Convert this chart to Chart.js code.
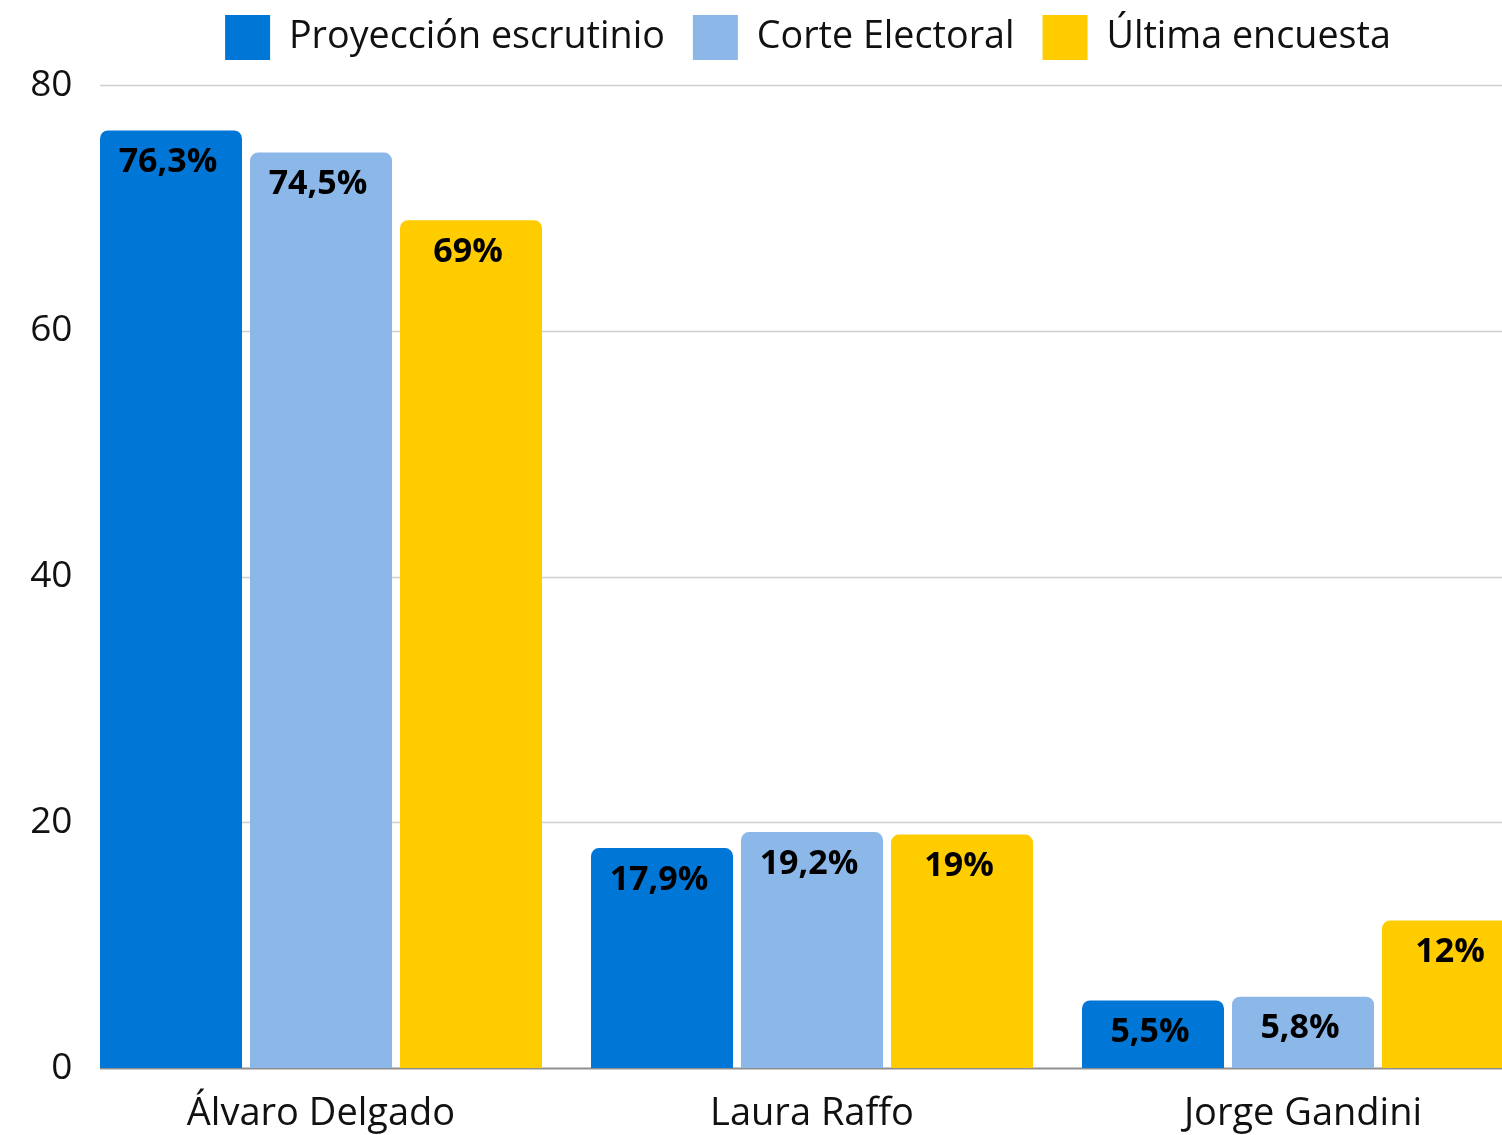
<!DOCTYPE html>
<html>
<head>
<meta charset="utf-8">
<script src="https://cdn.jsdelivr.net/npm/chart.js@4.4.1/dist/chart.umd.min.js"></script>
<style>
  html, body { margin: 0; padding: 0; background: #fff; overflow: hidden; }
  #wrap { position: relative; width: 1616px; height: 1135px; }
</style>
</head>
<body>
<div id="wrap"><canvas id="votes"></canvas></div>
<script>
const candidates = ["Álvaro Delgado", "Laura Raffo", "Jorge Gandini"];
const proyeccion = [76.3, 17.9, 5.5];
const corte = [74.5, 19.2, 5.8];
const encuesta = [69, 19, 12];
const yTicks = [0, 20, 40, 60, 80];

Chart.defaults.font.family = "'Open Sans', 'Noto Sans', sans-serif";
Chart.defaults.color = "#111";

const fmt = (v) => String(v).replace(".", ",") + "%";

// horizontal grid lines, starting at the first bar's left edge
const gridFromBars = {
  id: "gridFromBars",
  beforeDatasetsDraw(chart) {
    const { ctx, chartArea, scales } = chart;
    const first = chart.getDatasetMeta(0).data[0];
    const x0 = first.x - first.width / 2;
    ctx.save();
    yTicks.forEach((t) => {
      const y = Math.round(scales.y.getPixelForValue(t)) + 0.5;
      ctx.beginPath();
      ctx.strokeStyle = t === 0 ? "#8f8f8f" : "#cfcfcf";
      ctx.lineWidth = t === 0 ? 2 : 1.5;
      ctx.moveTo(x0, y);
      ctx.lineTo(chartArea.right, y);
      ctx.stroke();
    });
    ctx.restore();
  },
};

const valueLabels = {
  id: "valueLabels",
  afterDatasetsDraw(chart) {
    const { ctx } = chart;
    ctx.save();
    ctx.font = "bold 34px 'Open Sans', 'Noto Sans', sans-serif";
    ctx.fillStyle = "#000";
    ctx.textAlign = "center";
    ctx.textBaseline = "middle";
    chart.data.datasets.forEach((ds, i) => {
      chart.getDatasetMeta(i).data.forEach((bar, j) => {
        ctx.fillText(fmt(ds.data[j]), bar.x - 3, bar.y + 32);
      });
    });
    ctx.restore();
  },
};

new Chart(document.getElementById("votes"), {
  type: "bar",
  data: {
    labels: candidates,
    datasets: [
      {
        label: "Proyección escrutinio",
        data: proyeccion,
        backgroundColor: "rgb(0,118,214)",
        borderRadius: 8,
      },
      {
        label: "Corte Electoral",
        data: corte,
        backgroundColor: "rgb(139,184,232)",
        borderRadius: 8,
      },
      {
        label: "Última encuesta",
        data: encuesta,
        backgroundColor: "rgb(255,204,0)",
        borderRadius: 8,
      },
    ],
  },
  options: {
    responsive: true,
    maintainAspectRatio: false,
    animation: false,
    categoryPercentage: 0.9165,
    barPercentage: 0.9467,
    layout: { padding: { top: -13 } },
    plugins: {
      legend: {
        position: "top",
        labels: {
          boxWidth: 45,
          boxHeight: 45,
          padding: 28,
          color: "#111",
          font: { size: 37.7 },
        },
      },
      tooltip: { enabled: false },
    },
    scales: {
      x: {
        grid: { display: false },
        border: { display: false },
        ticks: { font: { size: 38 }, padding: 15, color: "#111" },
        afterFit: (s) => { s.height = 67; },
      },
      y: {
        min: 0,
        max: 80,
        grid: { display: false },
        border: { display: false },
        ticks: { stepSize: 20, font: { size: 37 }, padding: -5, color: "#111" },
        afterFit: (s) => { s.width = 75.5; },
      },
      topGap: {
        type: "linear",
        axis: "x",
        position: "top",
        display: true,
        grid: { display: false },
        border: { display: false },
        ticks: { display: false },
        afterFit: (s) => { s.height = 15; },
      },
      rightGap: {
        type: "linear",
        axis: "y",
        position: "right",
        display: true,
        grid: { display: false },
        border: { display: false },
        ticks: { display: false },
        afterFit: (s) => { s.width = 67.5; },
      },
    },
  },
  plugins: [gridFromBars, valueLabels],
});
</script>
</body>
</html>
